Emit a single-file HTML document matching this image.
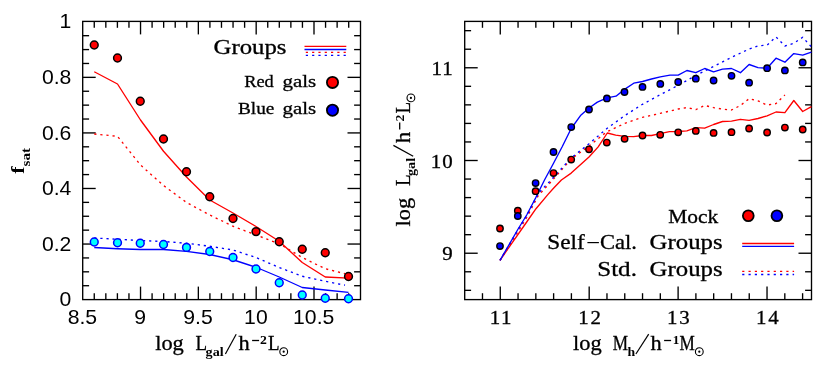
<!DOCTYPE html>
<html><head><meta charset="utf-8"><title>fig</title>
<style>
html,body{margin:0;padding:0;background:#fff;}
body{width:831px;height:385px;overflow:hidden;font-family:"Liberation Serif",serif;}
svg{display:block;will-change:transform;}
</style></head>
<body>
<svg width="831" height="385" viewBox="0 0 831 385">
<rect x="0" y="0" width="831" height="385" fill="#ffffff"/>
<rect x="82.70" y="21.40" width="277.80" height="278.20" fill="none" stroke="#000" stroke-width="1.35"/>
<line x1="94.26" y1="299.60" x2="94.26" y2="293.20" stroke="#000" stroke-width="1.35" />
<line x1="94.26" y1="21.40" x2="94.26" y2="27.80" stroke="#000" stroke-width="1.35" />
<line x1="105.83" y1="299.60" x2="105.83" y2="293.20" stroke="#000" stroke-width="1.35" />
<line x1="105.83" y1="21.40" x2="105.83" y2="27.80" stroke="#000" stroke-width="1.35" />
<line x1="117.40" y1="299.60" x2="117.40" y2="293.20" stroke="#000" stroke-width="1.35" />
<line x1="117.40" y1="21.40" x2="117.40" y2="27.80" stroke="#000" stroke-width="1.35" />
<line x1="128.96" y1="299.60" x2="128.96" y2="293.20" stroke="#000" stroke-width="1.35" />
<line x1="128.96" y1="21.40" x2="128.96" y2="27.80" stroke="#000" stroke-width="1.35" />
<line x1="140.53" y1="299.60" x2="140.53" y2="286.60" stroke="#000" stroke-width="1.35" />
<line x1="140.53" y1="21.40" x2="140.53" y2="34.40" stroke="#000" stroke-width="1.35" />
<line x1="152.09" y1="299.60" x2="152.09" y2="293.20" stroke="#000" stroke-width="1.35" />
<line x1="152.09" y1="21.40" x2="152.09" y2="27.80" stroke="#000" stroke-width="1.35" />
<line x1="163.65" y1="299.60" x2="163.65" y2="293.20" stroke="#000" stroke-width="1.35" />
<line x1="163.65" y1="21.40" x2="163.65" y2="27.80" stroke="#000" stroke-width="1.35" />
<line x1="175.22" y1="299.60" x2="175.22" y2="293.20" stroke="#000" stroke-width="1.35" />
<line x1="175.22" y1="21.40" x2="175.22" y2="27.80" stroke="#000" stroke-width="1.35" />
<line x1="186.79" y1="299.60" x2="186.79" y2="293.20" stroke="#000" stroke-width="1.35" />
<line x1="186.79" y1="21.40" x2="186.79" y2="27.80" stroke="#000" stroke-width="1.35" />
<line x1="198.35" y1="299.60" x2="198.35" y2="286.60" stroke="#000" stroke-width="1.35" />
<line x1="198.35" y1="21.40" x2="198.35" y2="34.40" stroke="#000" stroke-width="1.35" />
<line x1="209.91" y1="299.60" x2="209.91" y2="293.20" stroke="#000" stroke-width="1.35" />
<line x1="209.91" y1="21.40" x2="209.91" y2="27.80" stroke="#000" stroke-width="1.35" />
<line x1="221.48" y1="299.60" x2="221.48" y2="293.20" stroke="#000" stroke-width="1.35" />
<line x1="221.48" y1="21.40" x2="221.48" y2="27.80" stroke="#000" stroke-width="1.35" />
<line x1="233.05" y1="299.60" x2="233.05" y2="293.20" stroke="#000" stroke-width="1.35" />
<line x1="233.05" y1="21.40" x2="233.05" y2="27.80" stroke="#000" stroke-width="1.35" />
<line x1="244.61" y1="299.60" x2="244.61" y2="293.20" stroke="#000" stroke-width="1.35" />
<line x1="244.61" y1="21.40" x2="244.61" y2="27.80" stroke="#000" stroke-width="1.35" />
<line x1="256.18" y1="299.60" x2="256.18" y2="286.60" stroke="#000" stroke-width="1.35" />
<line x1="256.18" y1="21.40" x2="256.18" y2="34.40" stroke="#000" stroke-width="1.35" />
<line x1="267.74" y1="299.60" x2="267.74" y2="293.20" stroke="#000" stroke-width="1.35" />
<line x1="267.74" y1="21.40" x2="267.74" y2="27.80" stroke="#000" stroke-width="1.35" />
<line x1="279.30" y1="299.60" x2="279.30" y2="293.20" stroke="#000" stroke-width="1.35" />
<line x1="279.30" y1="21.40" x2="279.30" y2="27.80" stroke="#000" stroke-width="1.35" />
<line x1="290.87" y1="299.60" x2="290.87" y2="293.20" stroke="#000" stroke-width="1.35" />
<line x1="290.87" y1="21.40" x2="290.87" y2="27.80" stroke="#000" stroke-width="1.35" />
<line x1="302.44" y1="299.60" x2="302.44" y2="293.20" stroke="#000" stroke-width="1.35" />
<line x1="302.44" y1="21.40" x2="302.44" y2="27.80" stroke="#000" stroke-width="1.35" />
<line x1="314.00" y1="299.60" x2="314.00" y2="286.60" stroke="#000" stroke-width="1.35" />
<line x1="314.00" y1="21.40" x2="314.00" y2="34.40" stroke="#000" stroke-width="1.35" />
<line x1="325.56" y1="299.60" x2="325.56" y2="293.20" stroke="#000" stroke-width="1.35" />
<line x1="325.56" y1="21.40" x2="325.56" y2="27.80" stroke="#000" stroke-width="1.35" />
<line x1="337.13" y1="299.60" x2="337.13" y2="293.20" stroke="#000" stroke-width="1.35" />
<line x1="337.13" y1="21.40" x2="337.13" y2="27.80" stroke="#000" stroke-width="1.35" />
<line x1="348.70" y1="299.60" x2="348.70" y2="293.20" stroke="#000" stroke-width="1.35" />
<line x1="348.70" y1="21.40" x2="348.70" y2="27.80" stroke="#000" stroke-width="1.35" />
<line x1="82.70" y1="285.71" x2="89.10" y2="285.71" stroke="#000" stroke-width="1.35" />
<line x1="360.50" y1="285.71" x2="354.10" y2="285.71" stroke="#000" stroke-width="1.35" />
<line x1="82.70" y1="271.82" x2="89.10" y2="271.82" stroke="#000" stroke-width="1.35" />
<line x1="360.50" y1="271.82" x2="354.10" y2="271.82" stroke="#000" stroke-width="1.35" />
<line x1="82.70" y1="257.93" x2="89.10" y2="257.93" stroke="#000" stroke-width="1.35" />
<line x1="360.50" y1="257.93" x2="354.10" y2="257.93" stroke="#000" stroke-width="1.35" />
<line x1="82.70" y1="244.04" x2="95.70" y2="244.04" stroke="#000" stroke-width="1.35" />
<line x1="360.50" y1="244.04" x2="347.50" y2="244.04" stroke="#000" stroke-width="1.35" />
<line x1="82.70" y1="230.15" x2="89.10" y2="230.15" stroke="#000" stroke-width="1.35" />
<line x1="360.50" y1="230.15" x2="354.10" y2="230.15" stroke="#000" stroke-width="1.35" />
<line x1="82.70" y1="216.26" x2="89.10" y2="216.26" stroke="#000" stroke-width="1.35" />
<line x1="360.50" y1="216.26" x2="354.10" y2="216.26" stroke="#000" stroke-width="1.35" />
<line x1="82.70" y1="202.37" x2="89.10" y2="202.37" stroke="#000" stroke-width="1.35" />
<line x1="360.50" y1="202.37" x2="354.10" y2="202.37" stroke="#000" stroke-width="1.35" />
<line x1="82.70" y1="188.48" x2="95.70" y2="188.48" stroke="#000" stroke-width="1.35" />
<line x1="360.50" y1="188.48" x2="347.50" y2="188.48" stroke="#000" stroke-width="1.35" />
<line x1="82.70" y1="174.59" x2="89.10" y2="174.59" stroke="#000" stroke-width="1.35" />
<line x1="360.50" y1="174.59" x2="354.10" y2="174.59" stroke="#000" stroke-width="1.35" />
<line x1="82.70" y1="160.70" x2="89.10" y2="160.70" stroke="#000" stroke-width="1.35" />
<line x1="360.50" y1="160.70" x2="354.10" y2="160.70" stroke="#000" stroke-width="1.35" />
<line x1="82.70" y1="146.81" x2="89.10" y2="146.81" stroke="#000" stroke-width="1.35" />
<line x1="360.50" y1="146.81" x2="354.10" y2="146.81" stroke="#000" stroke-width="1.35" />
<line x1="82.70" y1="132.92" x2="95.70" y2="132.92" stroke="#000" stroke-width="1.35" />
<line x1="360.50" y1="132.92" x2="347.50" y2="132.92" stroke="#000" stroke-width="1.35" />
<line x1="82.70" y1="119.03" x2="89.10" y2="119.03" stroke="#000" stroke-width="1.35" />
<line x1="360.50" y1="119.03" x2="354.10" y2="119.03" stroke="#000" stroke-width="1.35" />
<line x1="82.70" y1="105.14" x2="89.10" y2="105.14" stroke="#000" stroke-width="1.35" />
<line x1="360.50" y1="105.14" x2="354.10" y2="105.14" stroke="#000" stroke-width="1.35" />
<line x1="82.70" y1="91.25" x2="89.10" y2="91.25" stroke="#000" stroke-width="1.35" />
<line x1="360.50" y1="91.25" x2="354.10" y2="91.25" stroke="#000" stroke-width="1.35" />
<line x1="82.70" y1="77.36" x2="95.70" y2="77.36" stroke="#000" stroke-width="1.35" />
<line x1="360.50" y1="77.36" x2="347.50" y2="77.36" stroke="#000" stroke-width="1.35" />
<line x1="82.70" y1="63.47" x2="89.10" y2="63.47" stroke="#000" stroke-width="1.35" />
<line x1="360.50" y1="63.47" x2="354.10" y2="63.47" stroke="#000" stroke-width="1.35" />
<line x1="82.70" y1="49.58" x2="89.10" y2="49.58" stroke="#000" stroke-width="1.35" />
<line x1="360.50" y1="49.58" x2="354.10" y2="49.58" stroke="#000" stroke-width="1.35" />
<line x1="82.70" y1="35.69" x2="89.10" y2="35.69" stroke="#000" stroke-width="1.35" />
<line x1="360.50" y1="35.69" x2="354.10" y2="35.69" stroke="#000" stroke-width="1.35" />
<polyline points="94.25,134.00 117.50,136.30 140.50,165.00 163.50,185.50 186.50,202.50 209.75,215.00 233.00,226.25 256.00,235.00 279.25,243.75 302.25,257.50 325.25,268.75 345.00,273.75" fill="none" stroke="#ff0000" stroke-width="1.35" stroke-linejoin="round" stroke-dasharray="2.2 3.9"/>
<polyline points="94.25,238.00 117.50,239.25 140.25,240.50 163.50,241.50 186.50,243.25 209.75,246.25 233.00,250.00 256.00,257.50 279.25,267.50 302.25,276.25 325.25,281.25 345.00,285.20" fill="none" stroke="#0000ff" stroke-width="1.35" stroke-linejoin="round" stroke-dasharray="2.2 3.9"/>
<polyline points="94.25,71.75 117.50,84.00 140.50,120.00 163.50,151.25 186.50,177.00 209.75,200.00 233.00,213.00 256.00,226.50 279.25,241.25 302.25,262.50 325.25,277.00 348.50,278.20" fill="none" stroke="#ff0000" stroke-width="1.35" stroke-linejoin="round"/>
<polyline points="94.25,247.50 117.50,248.75 140.25,249.50 163.50,249.50 186.50,251.40 209.75,254.50 233.00,259.75 256.00,267.25 279.25,277.00 302.25,287.50 325.25,290.00 348.50,292.40" fill="none" stroke="#0000ff" stroke-width="1.35" stroke-linejoin="round"/>
<circle cx="94.25" cy="45.00" r="3.9" fill="#ff0000" stroke="#000" stroke-width="1.5"/>
<circle cx="117.50" cy="58.00" r="3.9" fill="#ff0000" stroke="#000" stroke-width="1.5"/>
<circle cx="140.25" cy="101.25" r="3.9" fill="#ff0000" stroke="#000" stroke-width="1.5"/>
<circle cx="163.50" cy="139.00" r="3.9" fill="#ff0000" stroke="#000" stroke-width="1.5"/>
<circle cx="186.50" cy="171.75" r="3.9" fill="#ff0000" stroke="#000" stroke-width="1.5"/>
<circle cx="209.75" cy="196.75" r="3.9" fill="#ff0000" stroke="#000" stroke-width="1.5"/>
<circle cx="233.00" cy="218.50" r="3.9" fill="#ff0000" stroke="#000" stroke-width="1.5"/>
<circle cx="256.00" cy="231.60" r="3.9" fill="#ff0000" stroke="#000" stroke-width="1.5"/>
<circle cx="279.25" cy="241.75" r="3.9" fill="#ff0000" stroke="#000" stroke-width="1.5"/>
<circle cx="302.25" cy="249.25" r="3.9" fill="#ff0000" stroke="#000" stroke-width="1.5"/>
<circle cx="325.25" cy="252.75" r="3.9" fill="#ff0000" stroke="#000" stroke-width="1.5"/>
<circle cx="348.50" cy="276.50" r="3.9" fill="#ff0000" stroke="#000" stroke-width="1.5"/>
<circle cx="94.25" cy="242.00" r="3.9" fill="#00ffff" stroke="#0000ff" stroke-width="1.5"/>
<circle cx="117.50" cy="242.75" r="3.9" fill="#00ffff" stroke="#0000ff" stroke-width="1.5"/>
<circle cx="140.25" cy="243.25" r="3.9" fill="#00ffff" stroke="#0000ff" stroke-width="1.5"/>
<circle cx="163.50" cy="244.50" r="3.9" fill="#00ffff" stroke="#0000ff" stroke-width="1.5"/>
<circle cx="186.50" cy="247.40" r="3.9" fill="#00ffff" stroke="#0000ff" stroke-width="1.5"/>
<circle cx="209.75" cy="251.50" r="3.9" fill="#00ffff" stroke="#0000ff" stroke-width="1.5"/>
<circle cx="233.00" cy="257.50" r="3.9" fill="#00ffff" stroke="#0000ff" stroke-width="1.5"/>
<circle cx="256.00" cy="269.00" r="3.9" fill="#00ffff" stroke="#0000ff" stroke-width="1.5"/>
<circle cx="279.25" cy="282.75" r="3.9" fill="#00ffff" stroke="#0000ff" stroke-width="1.5"/>
<circle cx="302.25" cy="295.00" r="3.9" fill="#00ffff" stroke="#0000ff" stroke-width="1.5"/>
<circle cx="325.25" cy="298.25" r="3.9" fill="#00ffff" stroke="#0000ff" stroke-width="1.5"/>
<circle cx="348.50" cy="298.75" r="3.9" fill="#00ffff" stroke="#0000ff" stroke-width="1.5"/>
<text transform="translate(71.40,28.40) scale(1.06,1)" font-family="'Liberation Sans', serif" font-size="20" font-weight="normal" text-anchor="end" fill="#000">1</text>
<text transform="translate(71.40,83.96) scale(1.06,1)" font-family="'Liberation Sans', serif" font-size="20" font-weight="normal" text-anchor="end" fill="#000">0.8</text>
<text transform="translate(71.40,139.52) scale(1.06,1)" font-family="'Liberation Sans', serif" font-size="20" font-weight="normal" text-anchor="end" fill="#000">0.6</text>
<text transform="translate(71.40,195.08) scale(1.06,1)" font-family="'Liberation Sans', serif" font-size="20" font-weight="normal" text-anchor="end" fill="#000">0.4</text>
<text transform="translate(71.40,250.64) scale(1.06,1)" font-family="'Liberation Sans', serif" font-size="20" font-weight="normal" text-anchor="end" fill="#000">0.2</text>
<text transform="translate(71.40,306.20) scale(1.06,1)" font-family="'Liberation Sans', serif" font-size="20" font-weight="normal" text-anchor="end" fill="#000">0</text>
<text transform="translate(82.40,323.60) scale(1.06,1)" font-family="'Liberation Sans', serif" font-size="20" font-weight="normal" text-anchor="middle" fill="#000">8.5</text>
<text transform="translate(140.22,323.60) scale(1.06,1)" font-family="'Liberation Sans', serif" font-size="20" font-weight="normal" text-anchor="middle" fill="#000">9</text>
<text transform="translate(198.05,323.60) scale(1.06,1)" font-family="'Liberation Sans', serif" font-size="20" font-weight="normal" text-anchor="middle" fill="#000">9.5</text>
<text transform="translate(255.88,323.60) scale(1.06,1)" font-family="'Liberation Sans', serif" font-size="20" font-weight="normal" text-anchor="middle" fill="#000">10</text>
<text transform="translate(313.70,323.60) scale(1.06,1)" font-family="'Liberation Sans', serif" font-size="20" font-weight="normal" text-anchor="middle" fill="#000">10.5</text>
<text transform="translate(213.50,53.90) scale(1.2163,1)" font-family="'Liberation Serif', serif" font-size="20.38" font-weight="normal" text-anchor="start" stroke="#000" stroke-width="0.3" fill="#000">Groups</text>
<line x1="304.50" y1="46.40" x2="346.30" y2="46.40" stroke="#ff0000" stroke-width="1.35" />
<line x1="304.50" y1="49.50" x2="346.30" y2="49.50" stroke="#0000ff" stroke-width="1.35" />
<line x1="305.80" y1="52.40" x2="346.30" y2="52.40" stroke="#ff0000" stroke-width="1.35" stroke-dasharray="2.2 4.1"/>
<line x1="305.80" y1="55.30" x2="346.30" y2="55.30" stroke="#0000ff" stroke-width="1.35" stroke-dasharray="2.2 4.1"/>
<text transform="translate(316.20,86.60) scale(1.1827,1)" font-family="'Liberation Serif', serif" font-size="17.68" font-weight="normal" text-anchor="end" stroke="#000" stroke-width="0.3" fill="#000">gals</text>
<text transform="translate(273.80,86.60) scale(1.0385,1)" font-family="'Liberation Serif', serif" font-size="17.68" font-weight="normal" text-anchor="end" stroke="#000" stroke-width="0.3" fill="#000">Red</text>
<text transform="translate(316.20,114.10) scale(1.1827,1)" font-family="'Liberation Serif', serif" font-size="17.68" font-weight="normal" text-anchor="end" stroke="#000" stroke-width="0.3" fill="#000">gals</text>
<text transform="translate(274.40,114.10) scale(1.0913,1)" font-family="'Liberation Serif', serif" font-size="17.68" font-weight="normal" text-anchor="end" stroke="#000" stroke-width="0.3" fill="#000">Blue</text>
<circle cx="332.50" cy="82.40" r="5.6" fill="#ff0000" stroke="#000" stroke-width="1.8"/>
<circle cx="332.50" cy="110.20" r="5.6" fill="#0000ff" stroke="#000" stroke-width="1.8"/>
<g transform="translate(155.2,350.4)">
<text transform="translate(0.00,0.00) scale(1.12,1)" font-family="'Liberation Serif', serif" font-size="20" font-weight="normal" text-anchor="start" stroke="#000" stroke-width="0.3" fill="#000">log</text>
<text transform="translate(40.40,0.00) scale(0.95,1)" font-family="'Liberation Serif', serif" font-size="20" font-weight="normal" text-anchor="start" stroke="#000" stroke-width="0.3" fill="#000">L</text>
<text transform="translate(50.40,5.10) scale(1.18,1)" font-family="'Liberation Serif', serif" font-size="12" font-weight="bold" text-anchor="start" fill="#000">gal</text>
<line x1="70.20" y1="3.60" x2="81.00" y2="-16.20" stroke="#000" stroke-width="1.2" />
<text transform="translate(83.30,0.00) scale(1.12,1)" font-family="'Liberation Serif', serif" font-size="20" font-weight="normal" text-anchor="start" stroke="#000" stroke-width="0.3" fill="#000">h</text>
<line x1="96.90" y1="-9.90" x2="103.90" y2="-9.90" stroke="#000" stroke-width="1.3" />
<text transform="translate(104.80,-6.10) scale(1.1,1)" font-family="'Liberation Serif', serif" font-size="12.5" font-weight="bold" text-anchor="start" fill="#000">2</text>
<text transform="translate(112.90,0.00) scale(0.95,1)" font-family="'Liberation Serif', serif" font-size="20" font-weight="normal" text-anchor="start" stroke="#000" stroke-width="0.3" fill="#000">L</text>
<circle cx="128.50" cy="1.30" r="3.9" fill="none" stroke="#000" stroke-width="1.1"/>
<circle cx="128.50" cy="1.30" r="1.1" fill="#000"/>
</g>
<g transform="translate(24.4,173.8) rotate(-90)">
<text transform="translate(0.00,0.00) scale(1.2,1)" font-family="'Liberation Serif', serif" font-size="18" font-weight="bold" text-anchor="start" fill="#000">f</text>
<text transform="translate(7.30,5.50) scale(1.22,1)" font-family="'Liberation Serif', serif" font-size="12.5" font-weight="bold" text-anchor="start" fill="#000">sat</text>
</g>
<rect x="464.70" y="21.40" width="346.80" height="278.20" fill="none" stroke="#000" stroke-width="1.35"/>
<line x1="482.48" y1="299.60" x2="482.48" y2="293.20" stroke="#000" stroke-width="1.35" />
<line x1="482.48" y1="21.40" x2="482.48" y2="27.80" stroke="#000" stroke-width="1.35" />
<line x1="500.27" y1="299.60" x2="500.27" y2="286.60" stroke="#000" stroke-width="1.35" />
<line x1="500.27" y1="21.40" x2="500.27" y2="34.40" stroke="#000" stroke-width="1.35" />
<line x1="518.05" y1="299.60" x2="518.05" y2="293.20" stroke="#000" stroke-width="1.35" />
<line x1="518.05" y1="21.40" x2="518.05" y2="27.80" stroke="#000" stroke-width="1.35" />
<line x1="535.84" y1="299.60" x2="535.84" y2="293.20" stroke="#000" stroke-width="1.35" />
<line x1="535.84" y1="21.40" x2="535.84" y2="27.80" stroke="#000" stroke-width="1.35" />
<line x1="553.62" y1="299.60" x2="553.62" y2="293.20" stroke="#000" stroke-width="1.35" />
<line x1="553.62" y1="21.40" x2="553.62" y2="27.80" stroke="#000" stroke-width="1.35" />
<line x1="571.40" y1="299.60" x2="571.40" y2="293.20" stroke="#000" stroke-width="1.35" />
<line x1="571.40" y1="21.40" x2="571.40" y2="27.80" stroke="#000" stroke-width="1.35" />
<line x1="589.19" y1="299.60" x2="589.19" y2="286.60" stroke="#000" stroke-width="1.35" />
<line x1="589.19" y1="21.40" x2="589.19" y2="34.40" stroke="#000" stroke-width="1.35" />
<line x1="606.97" y1="299.60" x2="606.97" y2="293.20" stroke="#000" stroke-width="1.35" />
<line x1="606.97" y1="21.40" x2="606.97" y2="27.80" stroke="#000" stroke-width="1.35" />
<line x1="624.76" y1="299.60" x2="624.76" y2="293.20" stroke="#000" stroke-width="1.35" />
<line x1="624.76" y1="21.40" x2="624.76" y2="27.80" stroke="#000" stroke-width="1.35" />
<line x1="642.54" y1="299.60" x2="642.54" y2="293.20" stroke="#000" stroke-width="1.35" />
<line x1="642.54" y1="21.40" x2="642.54" y2="27.80" stroke="#000" stroke-width="1.35" />
<line x1="660.32" y1="299.60" x2="660.32" y2="293.20" stroke="#000" stroke-width="1.35" />
<line x1="660.32" y1="21.40" x2="660.32" y2="27.80" stroke="#000" stroke-width="1.35" />
<line x1="678.11" y1="299.60" x2="678.11" y2="286.60" stroke="#000" stroke-width="1.35" />
<line x1="678.11" y1="21.40" x2="678.11" y2="34.40" stroke="#000" stroke-width="1.35" />
<line x1="695.89" y1="299.60" x2="695.89" y2="293.20" stroke="#000" stroke-width="1.35" />
<line x1="695.89" y1="21.40" x2="695.89" y2="27.80" stroke="#000" stroke-width="1.35" />
<line x1="713.68" y1="299.60" x2="713.68" y2="293.20" stroke="#000" stroke-width="1.35" />
<line x1="713.68" y1="21.40" x2="713.68" y2="27.80" stroke="#000" stroke-width="1.35" />
<line x1="731.46" y1="299.60" x2="731.46" y2="293.20" stroke="#000" stroke-width="1.35" />
<line x1="731.46" y1="21.40" x2="731.46" y2="27.80" stroke="#000" stroke-width="1.35" />
<line x1="749.24" y1="299.60" x2="749.24" y2="293.20" stroke="#000" stroke-width="1.35" />
<line x1="749.24" y1="21.40" x2="749.24" y2="27.80" stroke="#000" stroke-width="1.35" />
<line x1="767.03" y1="299.60" x2="767.03" y2="286.60" stroke="#000" stroke-width="1.35" />
<line x1="767.03" y1="21.40" x2="767.03" y2="34.40" stroke="#000" stroke-width="1.35" />
<line x1="784.81" y1="299.60" x2="784.81" y2="293.20" stroke="#000" stroke-width="1.35" />
<line x1="784.81" y1="21.40" x2="784.81" y2="27.80" stroke="#000" stroke-width="1.35" />
<line x1="802.60" y1="299.60" x2="802.60" y2="293.20" stroke="#000" stroke-width="1.35" />
<line x1="802.60" y1="21.40" x2="802.60" y2="27.80" stroke="#000" stroke-width="1.35" />
<line x1="464.70" y1="290.33" x2="471.10" y2="290.33" stroke="#000" stroke-width="1.35" />
<line x1="811.50" y1="290.33" x2="805.10" y2="290.33" stroke="#000" stroke-width="1.35" />
<line x1="464.70" y1="271.78" x2="471.10" y2="271.78" stroke="#000" stroke-width="1.35" />
<line x1="811.50" y1="271.78" x2="805.10" y2="271.78" stroke="#000" stroke-width="1.35" />
<line x1="464.70" y1="253.23" x2="477.70" y2="253.23" stroke="#000" stroke-width="1.35" />
<line x1="811.50" y1="253.23" x2="798.50" y2="253.23" stroke="#000" stroke-width="1.35" />
<line x1="464.70" y1="234.69" x2="471.10" y2="234.69" stroke="#000" stroke-width="1.35" />
<line x1="811.50" y1="234.69" x2="805.10" y2="234.69" stroke="#000" stroke-width="1.35" />
<line x1="464.70" y1="216.14" x2="471.10" y2="216.14" stroke="#000" stroke-width="1.35" />
<line x1="811.50" y1="216.14" x2="805.10" y2="216.14" stroke="#000" stroke-width="1.35" />
<line x1="464.70" y1="197.59" x2="471.10" y2="197.59" stroke="#000" stroke-width="1.35" />
<line x1="811.50" y1="197.59" x2="805.10" y2="197.59" stroke="#000" stroke-width="1.35" />
<line x1="464.70" y1="179.05" x2="471.10" y2="179.05" stroke="#000" stroke-width="1.35" />
<line x1="811.50" y1="179.05" x2="805.10" y2="179.05" stroke="#000" stroke-width="1.35" />
<line x1="464.70" y1="160.50" x2="477.70" y2="160.50" stroke="#000" stroke-width="1.35" />
<line x1="811.50" y1="160.50" x2="798.50" y2="160.50" stroke="#000" stroke-width="1.35" />
<line x1="464.70" y1="141.95" x2="471.10" y2="141.95" stroke="#000" stroke-width="1.35" />
<line x1="811.50" y1="141.95" x2="805.10" y2="141.95" stroke="#000" stroke-width="1.35" />
<line x1="464.70" y1="123.41" x2="471.10" y2="123.41" stroke="#000" stroke-width="1.35" />
<line x1="811.50" y1="123.41" x2="805.10" y2="123.41" stroke="#000" stroke-width="1.35" />
<line x1="464.70" y1="104.86" x2="471.10" y2="104.86" stroke="#000" stroke-width="1.35" />
<line x1="811.50" y1="104.86" x2="805.10" y2="104.86" stroke="#000" stroke-width="1.35" />
<line x1="464.70" y1="86.31" x2="471.10" y2="86.31" stroke="#000" stroke-width="1.35" />
<line x1="811.50" y1="86.31" x2="805.10" y2="86.31" stroke="#000" stroke-width="1.35" />
<line x1="464.70" y1="67.77" x2="477.70" y2="67.77" stroke="#000" stroke-width="1.35" />
<line x1="811.50" y1="67.77" x2="798.50" y2="67.77" stroke="#000" stroke-width="1.35" />
<line x1="464.70" y1="49.22" x2="471.10" y2="49.22" stroke="#000" stroke-width="1.35" />
<line x1="811.50" y1="49.22" x2="805.10" y2="49.22" stroke="#000" stroke-width="1.35" />
<line x1="464.70" y1="30.67" x2="471.10" y2="30.67" stroke="#000" stroke-width="1.35" />
<line x1="811.50" y1="30.67" x2="805.10" y2="30.67" stroke="#000" stroke-width="1.35" />
<polyline points="500.00,260.30 509.00,246.50 517.80,232.00 526.70,217.50 538.30,195.50 549.50,183.50 571.20,159.00 589.00,146.00 606.50,132.00 624.60,123.50 642.50,117.30 660.20,113.40 678.20,109.00 686.90,107.60 695.80,109.60 704.70,105.50 713.60,107.60 722.50,109.10 731.50,110.00 740.40,105.50 749.10,98.70 758.00,100.90 767.10,105.10 776.00,103.60 784.90,94.90" fill="none" stroke="#ff0000" stroke-width="1.35" stroke-linejoin="round" stroke-dasharray="2.2 3.9"/>
<polyline points="500.00,260.30 509.00,245.00 517.80,230.00 526.70,215.50 538.30,193.30 549.50,181.70 571.20,157.90 589.00,143.80 606.90,128.50 624.60,115.70 642.50,104.30 660.20,94.70 680.00,84.40 695.80,75.50 713.60,66.40 731.50,57.30 749.10,49.10 758.00,45.80 767.10,45.10 776.00,36.90 784.90,46.00 793.80,43.30 802.70,37.30 811.40,46.90" fill="none" stroke="#0000ff" stroke-width="1.35" stroke-linejoin="round" stroke-dasharray="2.2 3.9"/>
<polyline points="500.00,260.30 510.70,244.90 526.70,222.00 536.00,208.70 547.60,194.90 553.50,188.30 561.40,180.00 571.20,173.10 589.00,157.00 598.20,146.90 607.30,133.00 615.70,135.20 624.60,136.30 633.60,136.70 642.50,135.50 651.50,135.50 660.20,133.60 669.40,131.70 678.20,131.50 686.90,130.90 695.80,127.60 704.70,128.20 713.60,124.50 722.50,121.50 731.50,121.10 740.40,119.30 749.10,120.40 758.00,118.50 767.10,115.80 776.00,112.00 784.90,112.70 793.80,100.50 802.70,111.50 811.40,106.70" fill="none" stroke="#ff0000" stroke-width="1.35" stroke-linejoin="round"/>
<polyline points="500.00,260.30 509.00,244.90 517.80,229.50 526.70,215.00 535.60,198.00 544.50,180.00 553.40,163.50 562.30,146.50 571.20,128.50 580.50,115.60 589.00,108.00 597.40,102.10 606.90,97.90 616.00,96.20 624.50,89.40 633.75,83.20 642.50,81.50 651.50,79.00 660.30,76.80 670.00,75.10 678.20,75.10 686.90,70.50 695.80,72.70 704.70,68.50 713.60,71.80 722.50,69.10 731.50,68.50 740.40,72.70 749.10,64.50 758.00,67.60 767.10,68.20 776.00,58.20 784.90,62.20 793.80,53.60 802.70,55.10 811.40,52.20" fill="none" stroke="#0000ff" stroke-width="1.35" stroke-linejoin="round"/>
<circle cx="500.00" cy="246.10" r="3.2" fill="#0000ff" stroke="#000" stroke-width="1.4"/>
<circle cx="500.00" cy="228.50" r="3.2" fill="#ff0000" stroke="#000" stroke-width="1.4"/>
<circle cx="517.80" cy="210.70" r="3.2" fill="#ff0000" stroke="#000" stroke-width="1.4"/>
<circle cx="517.80" cy="216.00" r="3.2" fill="#0000ff" stroke="#000" stroke-width="1.4"/>
<circle cx="535.60" cy="183.10" r="3.2" fill="#0000ff" stroke="#000" stroke-width="1.4"/>
<circle cx="535.60" cy="191.20" r="3.2" fill="#ff0000" stroke="#000" stroke-width="1.4"/>
<circle cx="553.50" cy="152.00" r="3.2" fill="#0000ff" stroke="#000" stroke-width="1.4"/>
<circle cx="553.50" cy="173.10" r="3.2" fill="#ff0000" stroke="#000" stroke-width="1.4"/>
<circle cx="571.25" cy="127.10" r="3.2" fill="#0000ff" stroke="#000" stroke-width="1.4"/>
<circle cx="571.20" cy="159.60" r="3.2" fill="#ff0000" stroke="#000" stroke-width="1.4"/>
<circle cx="589.00" cy="109.50" r="3.2" fill="#0000ff" stroke="#000" stroke-width="1.4"/>
<circle cx="589.00" cy="149.30" r="3.2" fill="#ff0000" stroke="#000" stroke-width="1.4"/>
<circle cx="606.90" cy="98.40" r="3.2" fill="#0000ff" stroke="#000" stroke-width="1.4"/>
<circle cx="606.80" cy="142.60" r="3.2" fill="#ff0000" stroke="#000" stroke-width="1.4"/>
<circle cx="624.50" cy="92.00" r="3.2" fill="#0000ff" stroke="#000" stroke-width="1.4"/>
<circle cx="624.60" cy="138.80" r="3.2" fill="#ff0000" stroke="#000" stroke-width="1.4"/>
<circle cx="642.50" cy="86.90" r="3.2" fill="#0000ff" stroke="#000" stroke-width="1.4"/>
<circle cx="642.50" cy="135.50" r="3.2" fill="#ff0000" stroke="#000" stroke-width="1.4"/>
<circle cx="660.30" cy="83.90" r="3.2" fill="#0000ff" stroke="#000" stroke-width="1.4"/>
<circle cx="660.20" cy="134.80" r="3.2" fill="#ff0000" stroke="#000" stroke-width="1.4"/>
<circle cx="678.20" cy="82.00" r="3.2" fill="#0000ff" stroke="#000" stroke-width="1.4"/>
<circle cx="678.20" cy="132.30" r="3.2" fill="#ff0000" stroke="#000" stroke-width="1.4"/>
<circle cx="695.80" cy="78.70" r="3.2" fill="#0000ff" stroke="#000" stroke-width="1.4"/>
<circle cx="695.80" cy="130.90" r="3.2" fill="#ff0000" stroke="#000" stroke-width="1.4"/>
<circle cx="713.60" cy="80.50" r="3.2" fill="#0000ff" stroke="#000" stroke-width="1.4"/>
<circle cx="713.60" cy="132.90" r="3.2" fill="#ff0000" stroke="#000" stroke-width="1.4"/>
<circle cx="731.50" cy="75.80" r="3.2" fill="#0000ff" stroke="#000" stroke-width="1.4"/>
<circle cx="731.50" cy="132.20" r="3.2" fill="#ff0000" stroke="#000" stroke-width="1.4"/>
<circle cx="749.10" cy="82.70" r="3.2" fill="#0000ff" stroke="#000" stroke-width="1.4"/>
<circle cx="749.10" cy="128.50" r="3.2" fill="#ff0000" stroke="#000" stroke-width="1.4"/>
<circle cx="767.10" cy="68.20" r="3.2" fill="#0000ff" stroke="#000" stroke-width="1.4"/>
<circle cx="767.10" cy="132.50" r="3.2" fill="#ff0000" stroke="#000" stroke-width="1.4"/>
<circle cx="784.90" cy="70.40" r="3.2" fill="#0000ff" stroke="#000" stroke-width="1.4"/>
<circle cx="784.90" cy="127.60" r="3.2" fill="#ff0000" stroke="#000" stroke-width="1.4"/>
<circle cx="802.70" cy="62.40" r="3.2" fill="#0000ff" stroke="#000" stroke-width="1.4"/>
<circle cx="802.70" cy="129.50" r="3.2" fill="#ff0000" stroke="#000" stroke-width="1.4"/>
<text transform="translate(453.60,74.77) scale(1.1,1)" font-family="'Liberation Serif', serif" font-size="19" font-weight="normal" text-anchor="end" letter-spacing="0.9" stroke="#000" stroke-width="0.3" fill="#000">11</text>
<text transform="translate(453.60,167.50) scale(1.1,1)" font-family="'Liberation Serif', serif" font-size="19" font-weight="normal" text-anchor="end" letter-spacing="0.9" stroke="#000" stroke-width="0.3" fill="#000">10</text>
<text transform="translate(453.60,260.23) scale(1.1,1)" font-family="'Liberation Serif', serif" font-size="19" font-weight="normal" text-anchor="end" letter-spacing="0.9" stroke="#000" stroke-width="0.3" fill="#000">9</text>
<text transform="translate(501.47,323.70) scale(1.1,1)" font-family="'Liberation Serif', serif" font-size="19" font-weight="normal" text-anchor="middle" letter-spacing="1.6" stroke="#000" stroke-width="0.3" fill="#000">11</text>
<text transform="translate(590.39,323.70) scale(1.1,1)" font-family="'Liberation Serif', serif" font-size="19" font-weight="normal" text-anchor="middle" letter-spacing="1.6" stroke="#000" stroke-width="0.3" fill="#000">12</text>
<text transform="translate(679.31,323.70) scale(1.1,1)" font-family="'Liberation Serif', serif" font-size="19" font-weight="normal" text-anchor="middle" letter-spacing="1.6" stroke="#000" stroke-width="0.3" fill="#000">13</text>
<text transform="translate(768.23,323.70) scale(1.1,1)" font-family="'Liberation Serif', serif" font-size="19" font-weight="normal" text-anchor="middle" letter-spacing="1.6" stroke="#000" stroke-width="0.3" fill="#000">14</text>
<text transform="translate(718.20,222.60) scale(1.1154,1)" font-family="'Liberation Serif', serif" font-size="19.24" font-weight="normal" text-anchor="end" stroke="#000" stroke-width="0.3" fill="#000">Mock</text>
<circle cx="748.30" cy="215.70" r="5.4" fill="#ff0000" stroke="#000" stroke-width="1.8"/>
<circle cx="776.90" cy="215.70" r="5.4" fill="#0000ff" stroke="#000" stroke-width="1.8"/>
<text transform="translate(649.60,248.60) scale(1.2163,1)" font-family="'Liberation Serif', serif" font-size="20.38" font-weight="normal" text-anchor="start" stroke="#000" stroke-width="0.3" fill="#000">Groups</text>
<text transform="translate(547.20,248.60) scale(1.1442,1)" font-family="'Liberation Serif', serif" font-size="20.38" font-weight="normal" text-anchor="start" stroke="#000" stroke-width="0.3" fill="#000">Self</text>
<line x1="587.40" y1="242.60" x2="598.90" y2="242.60" stroke="#000" stroke-width="1.2" />
<text transform="translate(636.90,248.60) scale(1.1058,1)" font-family="'Liberation Serif', serif" font-size="20.38" font-weight="normal" text-anchor="end" stroke="#000" stroke-width="0.3" fill="#000">Cal.</text>
<text transform="translate(649.60,275.80) scale(1.2163,1)" font-family="'Liberation Serif', serif" font-size="20.38" font-weight="normal" text-anchor="start" stroke="#000" stroke-width="0.3" fill="#000">Groups</text>
<text transform="translate(636.90,275.80) scale(1.2308,1)" font-family="'Liberation Serif', serif" font-size="20.38" font-weight="normal" text-anchor="end" stroke="#000" stroke-width="0.3" fill="#000">Std.</text>
<line x1="742.20" y1="243.50" x2="794.10" y2="243.50" stroke="#ff0000" stroke-width="1.35" />
<line x1="742.20" y1="246.40" x2="794.10" y2="246.40" stroke="#0000ff" stroke-width="1.35" />
<line x1="742.20" y1="271.40" x2="794.10" y2="271.40" stroke="#ff0000" stroke-width="1.35" stroke-dasharray="2.2 4.1"/>
<line x1="742.20" y1="274.50" x2="794.10" y2="274.50" stroke="#0000ff" stroke-width="1.35" stroke-dasharray="2.2 4.1"/>
<g transform="translate(573.1,350.4)">
<text transform="translate(0.00,0.00) scale(1.12,1)" font-family="'Liberation Serif', serif" font-size="20" font-weight="normal" text-anchor="start" stroke="#000" stroke-width="0.3" fill="#000">log</text>
<text transform="translate(39.60,0.00) scale(0.86,1)" font-family="'Liberation Serif', serif" font-size="20" font-weight="normal" text-anchor="start" stroke="#000" stroke-width="0.3" fill="#000">M</text>
<text transform="translate(54.40,5.20) scale(1.1,1)" font-family="'Liberation Serif', serif" font-size="12.5" font-weight="bold" text-anchor="start" fill="#000">h</text>
<line x1="62.80" y1="3.60" x2="75.60" y2="-16.20" stroke="#000" stroke-width="1.2" />
<text transform="translate(77.40,0.00) scale(1.12,1)" font-family="'Liberation Serif', serif" font-size="20" font-weight="normal" text-anchor="start" stroke="#000" stroke-width="0.3" fill="#000">h</text>
<line x1="91.00" y1="-9.90" x2="98.00" y2="-9.90" stroke="#000" stroke-width="1.3" />
<text transform="translate(99.60,-6.10) scale(1.1,1)" font-family="'Liberation Serif', serif" font-size="12" font-weight="bold" text-anchor="start" fill="#000">1</text>
<text transform="translate(106.30,0.00) scale(0.86,1)" font-family="'Liberation Serif', serif" font-size="20" font-weight="normal" text-anchor="start" stroke="#000" stroke-width="0.3" fill="#000">M</text>
<circle cx="126.20" cy="1.30" r="3.9" fill="none" stroke="#000" stroke-width="1.1"/>
<circle cx="126.20" cy="1.30" r="1.1" fill="#000"/>
</g>
<g transform="translate(409.6,226.4) rotate(-90)">
<text transform="translate(0.00,0.00) scale(1.12,1)" font-family="'Liberation Serif', serif" font-size="20" font-weight="normal" text-anchor="start" stroke="#000" stroke-width="0.3" fill="#000">log</text>
<text transform="translate(40.40,0.00) scale(0.95,1)" font-family="'Liberation Serif', serif" font-size="20" font-weight="normal" text-anchor="start" stroke="#000" stroke-width="0.3" fill="#000">L</text>
<text transform="translate(50.40,5.10) scale(1.18,1)" font-family="'Liberation Serif', serif" font-size="12" font-weight="bold" text-anchor="start" fill="#000">gal</text>
<line x1="70.20" y1="3.60" x2="81.00" y2="-16.20" stroke="#000" stroke-width="1.2" />
<text transform="translate(83.30,0.00) scale(1.12,1)" font-family="'Liberation Serif', serif" font-size="20" font-weight="normal" text-anchor="start" stroke="#000" stroke-width="0.3" fill="#000">h</text>
<line x1="96.90" y1="-9.90" x2="103.90" y2="-9.90" stroke="#000" stroke-width="1.3" />
<text transform="translate(104.80,-6.10) scale(1.1,1)" font-family="'Liberation Serif', serif" font-size="12.5" font-weight="bold" text-anchor="start" fill="#000">2</text>
<text transform="translate(112.90,0.00) scale(0.95,1)" font-family="'Liberation Serif', serif" font-size="20" font-weight="normal" text-anchor="start" stroke="#000" stroke-width="0.3" fill="#000">L</text>
<circle cx="128.50" cy="1.30" r="3.9" fill="none" stroke="#000" stroke-width="1.1"/>
<circle cx="128.50" cy="1.30" r="1.1" fill="#000"/>
</g>
</svg>
</body></html>
